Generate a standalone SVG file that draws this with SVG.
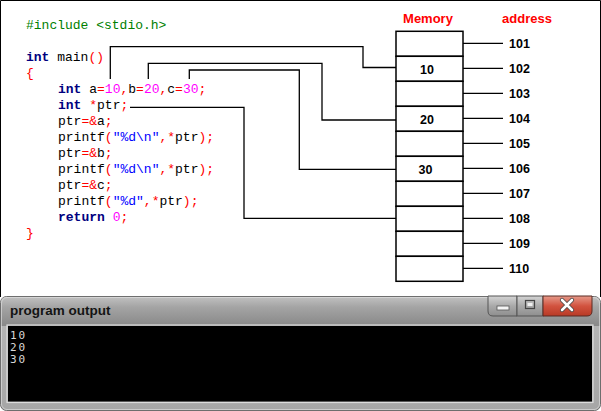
<svg xmlns="http://www.w3.org/2000/svg" width="601" height="411" viewBox="0 0 601 411">
<defs>
<style>
.code{font-family:"Liberation Mono","Courier New",monospace;font-size:13px;fill:#000}
.k{fill:#000080;font-weight:bold}
.p{fill:#ff0000}
.n{fill:#ff00ff}
.s{fill:#0000ff}
.g{fill:#008000}
.lbl{font-family:"Liberation Sans",Arial,sans-serif;font-size:13px;font-weight:bold;fill:#ff0000;text-anchor:middle}
.addr{font-family:"Liberation Sans",Arial,sans-serif;font-size:12.5px;font-weight:bold;fill:#000}
.val{font-family:"Liberation Sans",Arial,sans-serif;font-size:12.5px;font-weight:bold;fill:#000;text-anchor:middle}
.cell{fill:#fff;stroke:#000;stroke-width:1.5}
.wire{fill:none;stroke:#000;stroke-width:1.3}
.tick{stroke:#000;stroke-width:1.3}
.con{font-family:"DejaVu Sans Mono","Liberation Mono",monospace;font-size:11px;fill:#d8d8d8;letter-spacing:1.8px}
</style>
<linearGradient id="tb" x1="0" y1="0" x2="0" y2="1">
<stop offset="0" stop-color="#c0c0c0"/>
<stop offset="0.35" stop-color="#a4a4a4"/>
<stop offset="1" stop-color="#888"/>
</linearGradient>
<linearGradient id="fr" x1="0" y1="0" x2="0" y2="1">
<stop offset="0" stop-color="#b8b8b8"/>
<stop offset="1" stop-color="#a6a6a6"/>
</linearGradient>
<linearGradient id="btn" x1="0" y1="0" x2="0" y2="1">
<stop offset="0" stop-color="#d4d4d4"/>
<stop offset="0.5" stop-color="#a9a9a9"/>
<stop offset="1" stop-color="#8e8e8e"/>
</linearGradient>
<linearGradient id="cls" x1="0" y1="0" x2="0" y2="1">
<stop offset="0" stop-color="#e69a8a"/>
<stop offset="0.5" stop-color="#d2533f"/>
<stop offset="1" stop-color="#b83a26"/>
</linearGradient>
</defs>
<rect x="0" y="0" width="601" height="411" fill="#fff"/>
<path d="M0.5,297 V0.5 H600.5 V297" fill="none" stroke="#000" stroke-width="1"/>

<g id="code">
<text class="code g" x="26" y="29">#include &lt;stdio.h&gt;</text>
<text class="code" x="26" y="61"><tspan class="k">int</tspan> main<tspan class="p">()</tspan></text>
<text class="code p" x="26" y="77">{</text>
<text class="code" x="58" y="93"><tspan class="k">int</tspan> a<tspan class="p">=</tspan><tspan class="n">10</tspan><tspan class="p">,</tspan>b<tspan class="p">=</tspan><tspan class="n">20</tspan><tspan class="p">,</tspan>c<tspan class="p">=</tspan><tspan class="n">30</tspan><tspan class="p">;</tspan></text>
<text class="code" x="58" y="109"><tspan class="k">int</tspan> <tspan class="p">*</tspan>ptr<tspan class="p">;</tspan></text>
<text class="code" x="58" y="125">ptr<tspan class="p">=&amp;</tspan>a<tspan class="p">;</tspan></text>
<text class="code" x="58" y="141">printf<tspan class="p">(</tspan><tspan class="s">"%d\n"</tspan><tspan class="p">,*</tspan>ptr<tspan class="p">);</tspan></text>
<text class="code" x="58" y="157">ptr<tspan class="p">=&amp;</tspan>b<tspan class="p">;</tspan></text>
<text class="code" x="58" y="173">printf<tspan class="p">(</tspan><tspan class="s">"%d\n"</tspan><tspan class="p">,*</tspan>ptr<tspan class="p">);</tspan></text>
<text class="code" x="58" y="189">ptr<tspan class="p">=&amp;</tspan>c<tspan class="p">;</tspan></text>
<text class="code" x="58" y="205">printf<tspan class="p">(</tspan><tspan class="s">"%d"</tspan><tspan class="p">,*</tspan>ptr<tspan class="p">);</tspan></text>
<text class="code" x="58" y="221"><tspan class="k">return</tspan> <tspan class="n">0</tspan><tspan class="p">;</tspan></text>
<text class="code p" x="26" y="237">}</text>
</g>

<g id="connectors">
<polyline class="wire" points="110.3,79 110.3,46.7 363,46.7 363,67.5 396,67.5"/>
<polyline class="wire" points="148.3,79 148.3,63.3 322,63.3 322,120 396,120"/>
<polyline class="wire" points="189.3,79 189.3,70 299.3,70 299.3,169.3 396,169.3"/>
<polyline class="wire" points="130,107.3 244,107.3 244,218.3 396,218.3"/>
<g id="ticks">
<line class="tick" x1="463" y1="43.3" x2="503" y2="43.3"/>
<line class="tick" x1="463" y1="68.3" x2="503" y2="68.3"/>
<line class="tick" x1="463" y1="93.3" x2="503" y2="93.3"/>
<line class="tick" x1="463" y1="118.3" x2="503" y2="118.3"/>
<line class="tick" x1="463" y1="143.3" x2="503" y2="143.3"/>
<line class="tick" x1="463" y1="168.3" x2="503" y2="168.3"/>
<line class="tick" x1="463" y1="193.3" x2="503" y2="193.3"/>
<line class="tick" x1="463" y1="218.3" x2="503" y2="218.3"/>
<line class="tick" x1="463" y1="243.3" x2="503" y2="243.3"/>
<line class="tick" x1="463" y1="268.3" x2="503" y2="268.3"/>
</g>
</g>

<g id="memory">
<text class="lbl" x="428" y="23.3">Memory</text>
<rect class="cell" x="396" y="31.3" width="67" height="25"/>
<rect class="cell" x="396" y="56.3" width="67" height="25"/>
<rect class="cell" x="396" y="81.3" width="67" height="25"/>
<rect class="cell" x="396" y="106.3" width="67" height="25"/>
<rect class="cell" x="396" y="131.3" width="67" height="25"/>
<rect class="cell" x="396" y="156.3" width="67" height="25"/>
<rect class="cell" x="396" y="181.3" width="67" height="25"/>
<rect class="cell" x="396" y="206.3" width="67" height="25"/>
<rect class="cell" x="396" y="231.3" width="67" height="25"/>
<rect class="cell" x="396" y="256.3" width="67" height="25"/>
<text class="val" x="427" y="74">10</text>
<text class="val" x="427" y="124">20</text>
<text class="val" x="425.5" y="174">30</text>
</g>

<g id="address">
<text class="lbl" x="527" y="23.3">address</text>
<text class="addr" x="509" y="47.7">101</text>
<text class="addr" x="509" y="72.7">102</text>
<text class="addr" x="509" y="97.7">103</text>
<text class="addr" x="509" y="122.7">104</text>
<text class="addr" x="509" y="147.7">105</text>
<text class="addr" x="509" y="172.7">106</text>
<text class="addr" x="509" y="197.7">107</text>
<text class="addr" x="509" y="222.7">108</text>
<text class="addr" x="509" y="247.7">109</text>
<text class="addr" x="509" y="272.7">110</text>
</g>

<g id="output-window">
<rect x="0.5" y="296.5" width="600" height="114" rx="6" fill="url(#fr)" stroke="#6e6e6e" stroke-width="1"/>
<path d="M1,326 V302.5 Q1,297 6.5,297 H594.5 Q600,297 600,302.5 V326 Z" fill="url(#tb)"/>
<rect x="1.5" y="297.5" width="598" height="112" rx="5.5" fill="none" stroke="#e4e4e4" stroke-width="1" opacity="0.6"/>
<text x="10" y="314.5" font-family="'Liberation Sans',Arial,sans-serif" font-size="13.5" font-weight="bold" fill="#141414">program output</text>
<rect x="7" y="325" width="586" height="77.5" fill="none" stroke="#dcdcdc" stroke-width="1.2"/>
<rect x="8" y="326" width="584" height="75.5" fill="#000"/>
<text class="con" x="10" y="339">10</text>
<text class="con" x="10" y="351">20</text>
<text class="con" x="10" y="363">30</text>
<g id="buttons">
<path d="M488,296 H517 V316 H493 Q488,316 488,311 Z" fill="url(#btn)" stroke="#555" stroke-width="1"/>
<rect x="517" y="296" width="26" height="20" fill="url(#btn)" stroke="#555" stroke-width="1"/>
<path d="M543,296 H592 V311 Q592,316 587,316 H543 Z" fill="url(#cls)" stroke="#5a2a22" stroke-width="1"/>
<rect x="497" y="306" width="12" height="4" fill="#f4f4f4" stroke="#555" stroke-width="0.8"/>
<rect x="525.5" y="300.5" width="9" height="8" fill="none" stroke="#444" stroke-width="1.2"/>
<rect x="527.5" y="303" width="5" height="3" fill="#f0f0f0"/>
<path d="M562,300 L572,310 M572,300 L562,310" stroke="#444" stroke-width="4.2" stroke-linecap="round"/>
<path d="M562,300 L572,310 M572,300 L562,310" stroke="#fff" stroke-width="2.6" stroke-linecap="round"/>
</g>
</g>
</svg>
